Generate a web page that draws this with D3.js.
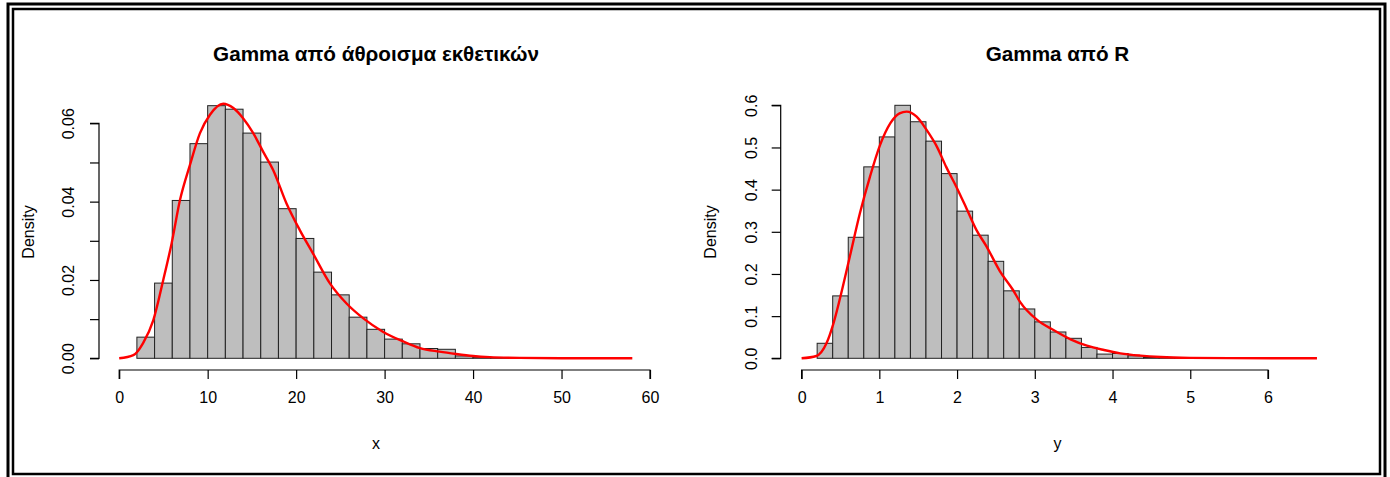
<!DOCTYPE html>
<html><head><meta charset="utf-8">
<script src="https://cdn.jsdelivr.net/npm/d3@7"></script>
<style>body{margin:0;background:#fff}svg{display:block}text{font-family:Arial,"Liberation Sans",sans-serif;fill:#000}</style>
</head><body>
<script>
// ---- data ----
const leftTitle = "Gamma από άθροισμα εκθετικών";
const rightTitle = "Gamma από R";
const leftBinWidth = 2;
const leftBinStarts = [2,4,6,8,10,12,14,16,18,20,22,24,26,28,30,32,34,36,38,40,42,44];
const leftDensity = [0.0054,0.0192,0.0403,0.0548,0.0645,0.0636,0.0575,0.0501,0.0382,0.0306,0.0220,0.0162,0.0105,0.0074,0.0049,0.0037,0.0025,0.0023,0.0006,0.0003,0.00013,0.00008];
const leftCurveX = [0,1.6,2.7,3.85,4.98,5.93,6.87,8.0,9.13,10.26,11.76,12.9,14.0,15.15,16.28,17.4,18.9,20.4,21.9,23.8,25.7,27.6,29.8,32.1,34.0,36.2,38.1,40.0,41.9,45.3,50,58];
const leftCurveY = [0,0.0008,0.0039,0.0097,0.0200,0.0294,0.0404,0.0494,0.0575,0.0622,0.0650,0.0639,0.0613,0.0575,0.0527,0.0481,0.0396,0.0328,0.0268,0.0192,0.0140,0.0102,0.0068,0.0043,0.0026,0.0017,0.0011,0.0006,0.0003,0.0001,0.00003,0];
const leftXTicks = [0,10,20,30,40,50,60];
const leftYTicks = [0,0.01,0.02,0.03,0.04,0.05,0.06];
const leftYLabels = ["0.00","","0.02","","0.04","","0.06"];

const rightBinWidth = 0.2;
const rightBinStarts = [0.2,0.4,0.6,0.8,1.0,1.2,1.4,1.6,1.8,2.0,2.2,2.4,2.6,2.8,3.0,3.2,3.4,3.6,3.8,4.0,4.2,4.4,4.6,4.8];
const rightDensity = [0.0356,0.148,0.287,0.454,0.525,0.600,0.561,0.515,0.438,0.349,0.292,0.230,0.160,0.117,0.0864,0.0624,0.0474,0.0258,0.0100,0.0114,0.0059,0.0019,0.0010,0.0005];
const rightCurveX = [0,0.19,0.32,0.41,0.52,0.62,0.75,0.88,1.01,1.14,1.26,1.35,1.48,1.61,1.74,1.86,1.99,2.12,2.25,2.38,2.55,2.72,2.81,3.03,3.24,3.46,3.67,3.89,4.10,4.36,4.62,5.0,5.5,6.63];
const rightCurveY = [0,0.0055,0.0356,0.083,0.162,0.241,0.344,0.431,0.506,0.557,0.581,0.585,0.573,0.541,0.502,0.454,0.407,0.356,0.304,0.265,0.207,0.162,0.134,0.091,0.067,0.045,0.030,0.0197,0.0118,0.0063,0.003,0.001,0.0003,0];
const rightXTicks = [0,1,2,3,4,5,6];
const rightYTicks = [0,0.1,0.2,0.3,0.4,0.5,0.6];
const rightYLabels = ["0.0","0.1","0.2","0.3","0.4","0.5","0.6"];

// ---- drawing ----
const W = 1390, H = 477;
const svg = d3.select("body").append("svg").attr("width", W).attr("height", H);
svg.append("rect").attr("width", W).attr("height", H).attr("fill", "#fff");
// window frame
svg.append("rect").attr("x", 8).attr("y", 4).attr("width", 1377).attr("height", 480)
  .attr("fill", "none").attr("stroke", "#000").attr("stroke-width", 3);
svg.append("rect").attr("x", 13).attr("y", 9).attr("width", 1367).attr("height", 465)
  .attr("fill", "none").attr("stroke", "#000").attr("stroke-width", 2.5);

function panel(cfg) {
  const x = d3.scaleLinear().domain(cfg.xDomain).range(cfg.xRange);
  const y = d3.scaleLinear().domain(cfg.yDomain).range(cfg.yRange);
  const g = svg.append("g");
  // bars
  g.selectAll("rect.bar").data(cfg.bins.map((b, i) => ({b, v: cfg.dens[i]})))
    .join("rect").attr("class", "bar")
    .attr("x", d => x(d.b)).attr("width", d => x(d.b + cfg.bw) - x(d.b))
    .attr("y", d => y(d.v)).attr("height", d => y(0) - y(d.v))
    .attr("fill", "#bebebe").attr("stroke", "#222").attr("stroke-width", 1);
  // density curve
  const pts = cfg.cx.map((v, i) => [v, cfg.cy[i]]);
  g.append("path").datum(pts)
    .attr("d", d3.line().x(d => x(d[0])).y(d => y(d[1])).curve(d3.curveMonotoneX))
    .attr("fill", "none").attr("stroke", "#ff0000").attr("stroke-width", 2.4);
  // x axis
  const xa = g.append("g").attr("transform", `translate(0,370)`)
    .call(d3.axisBottom(x).tickValues(cfg.xTicks).tickSize(9).tickPadding(13).tickFormat(d3.format("d")));
  xa.select(".domain").attr("stroke", "#000").attr("stroke-width", 1.2)
    .attr("d", `M${x(cfg.xTicks[0])},9V0H${x(cfg.xTicks[cfg.xTicks.length-1])}V9`);
  xa.selectAll(".tick line").attr("stroke", "#000").attr("stroke-width", 1.2);
  xa.selectAll("text").attr("font-size", 16).attr("font-family", "Arial, 'Liberation Sans', sans-serif").attr("fill", "#000");
  // y axis
  const ya = g.append("g").attr("transform", `translate(${cfg.yAxisX},0)`)
    .call(d3.axisLeft(y).tickValues(cfg.yTicks).tickSize(9).tickFormat((d, i) => cfg.yLabels[i]));
  ya.select(".domain").attr("stroke", "#000").attr("stroke-width", 1.2)
    .attr("d", `M-9,${y(cfg.yTicks[0])}H0V${y(cfg.yTicks[cfg.yTicks.length-1])}H-9`);
  ya.selectAll(".tick line").attr("stroke", "#000").attr("stroke-width", 1.2);
  ya.selectAll("text").attr("font-size", 16).attr("font-family", "Arial, 'Liberation Sans', sans-serif").attr("fill", "#000")
    .attr("text-anchor", "middle").attr("dy", null)
    .attr("x", null)
    .attr("transform", `translate(${cfg.yLabelX - cfg.yAxisX},0) rotate(-90)`);
  // titles & labels
  svg.append("text").attr("x", cfg.titleX).attr("y", 61).attr("text-anchor", "middle")
    .attr("font-size", 20.7).attr("font-weight", "bold").text(cfg.title);
  svg.append("text").attr("x", cfg.titleX).attr("y", 449).attr("text-anchor", "middle")
    .attr("font-size", 16).text(cfg.xLabel);
  svg.append("text").attr("transform", `translate(${cfg.densX},232) rotate(-90)`).attr("text-anchor", "middle")
    .attr("font-size", 16).text("Density");
}

panel({xDomain:[0,60], xRange:[119.2,650], yDomain:[0,0.06], yRange:[358.3,123.3],
  bins:leftBinStarts, bw:leftBinWidth, dens:leftDensity, cx:leftCurveX, cy:leftCurveY,
  xTicks:leftXTicks, yTicks:leftYTicks, yLabels:leftYLabels, yAxisX:99, yLabelX:74,
  title:leftTitle, titleX:376, xLabel:"x", densX:34});
panel({xDomain:[0,6], xRange:[801.6,1268], yDomain:[0,0.6], yRange:[358.3,105.3],
  bins:rightBinStarts, bw:rightBinWidth, dens:rightDensity, cx:rightCurveX, cy:rightCurveY,
  xTicks:rightXTicks, yTicks:rightYTicks, yLabels:rightYLabels, yAxisX:780.7, yLabelX:757,
  title:rightTitle, titleX:1057.5, xLabel:"y", densX:716});
</script>
</body></html>
